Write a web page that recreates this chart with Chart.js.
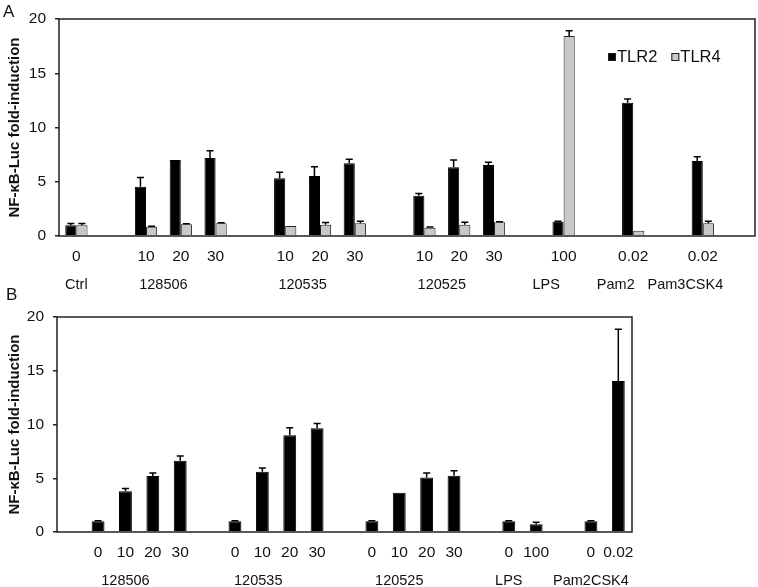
<!DOCTYPE html>
<html>
<head>
<meta charset="utf-8">
<script src="https://cdn.jsdelivr.net/npm/chart.js@4/dist/chart.umd.min.js"></script>
<style>
  body { margin: 0; background: #fff; }
  #wrap { position: relative; width: 758px; height: 587px; font-family: 'Liberation Sans', Arial, sans-serif; }
  canvas { position: absolute; left: 0; }
  #chartA { top: 0; }
  #chartB { top: 296px; }
  .panel { position: absolute; font-size: 17px; color: #111; }
</style>
</head>
<body>
<div id="wrap">
  <canvas id="chartA" width="758" height="296"></canvas>
  <canvas id="chartB" width="758" height="291"></canvas>
  <div class="panel" style="left:3px; top:2px;">A</div>
  <div class="panel" style="left:6px; top:285px;">B</div>
</div>
<script>
// Panel A: doses (empty string = spacer slot)
const dosesA = ['0', '', '10', '20', '30', '', '10', '20', '30', '', '10', '20', '30', '', '100', '', '0.02', '', '0.02', ''];
const tlr2 = [1.0, null, 4.55, 7.0, 7.2, null, 5.32, 5.53, 6.7, null, 3.71, 6.33, 6.54, null, 1.32, null, 12.29, null, 6.91, null];
const tlr2Err = [0.15, null, 0.85, 0, 0.65, null, 0.55, 0.85, 0.37, null, 0.2, 0.67, 0.25, null, 0.05, null, 0.34, null, 0.4, null];
const tlr4 = [1.0, null, 0.86, 1.08, 1.17, null, 0.92, 1.04, 1.17, null, 0.77, 1.04, 1.26, null, 18.43, null, 0.49, null, 1.17, null];
const tlr4Err = [0.15, null, 0.05, 0.05, 0.05, null, 0, 0.2, 0.18, null, 0.05, 0.22, 0.05, null, 0.49, null, 0, null, 0.18, null];
const groupsA = ['Ctrl', '128506', '120535', '120525', 'LPS', 'Pam2', 'Pam3CSK4'];
const groupPosA = [0, 2.5, 6.5, 10.5, 13.5, 15.5, 17.5];

// Panel B
const dosesB = ['', '0', '10', '20', '30', '', '0', '10', '20', '30', '', '0', '10', '20', '30', '', '0', '100', '', '0', '0.02'];
const valuesB = [null, 1.0, 3.8, 5.2, 6.63, null, 1.0, 5.6, 9.0, 9.65, null, 1.0, 3.65, 5.08, 5.24, null, 1.0, 0.72, null, 1.0, 14.05];
const errB = [null, 0.05, 0.25, 0.3, 0.45, null, 0.05, 0.35, 0.7, 0.45, null, 0.05, 0, 0.4, 0.46, null, 0.05, 0.18, null, 0.05, 4.8];
const groupsB = ['128506', '120535', '120525', 'LPS', 'Pam2CSK4'];
const groupPosB = [2, 6.85, 12, 16, 19];

const yTicks = [0, 5, 10, 15, 20];
const FONT = "'Liberation Sans', Arial, sans-serif";
const AXIS = '#222';

// error bars, frame, group labels
const extras = {
    id: 'extras',
    afterDatasetsDraw(chart, args, opts) {
        const ctx = chart.ctx;
        const y = chart.scales.y;
        ctx.save();
        ctx.strokeStyle = '#000';
        ctx.lineWidth = 1.5;
        chart.data.datasets.forEach((ds, di) => {
            const meta = chart.getDatasetMeta(di);
            ds.errors.forEach((e, i) => {
                if (!e || ds.data[i] == null) return;
                const bar = meta.data[i];
                const top = y.getPixelForValue(ds.data[i] + e);
                ctx.beginPath();
                ctx.moveTo(bar.x, bar.y);
                ctx.lineTo(bar.x, top);
                ctx.moveTo(bar.x - 3.5, top);
                ctx.lineTo(bar.x + 3.5, top);
                ctx.stroke();
            });
        });
        // frame
        const a = chart.chartArea;
        ctx.strokeStyle = AXIS;
        ctx.lineWidth = 1.5;
        ctx.strokeRect(a.left, a.top, a.right - a.left, a.bottom - a.top);
        // group labels
        const x = chart.scales.x;
        ctx.fillStyle = '#111';
        ctx.font = '14.5px ' + FONT;
        ctx.textAlign = 'center';
        ctx.textBaseline = 'middle';
        opts.groups.forEach((g, i) => {
            ctx.fillText(g, x.getPixelForValue(opts.positions[i]), a.bottom + 49);
        });
        // legend inside the plot
        if (opts.legend) {
            let lx = a.right - 147;
            const ly = a.top + 38;
            ctx.font = '16.5px ' + FONT;
            chart.data.datasets.forEach(ds => {
                ctx.fillStyle = ds.backgroundColor;
                ctx.fillRect(lx, ly - 4, 8, 8);
                ctx.strokeStyle = '#222';
                ctx.lineWidth = 1;
                ctx.strokeRect(lx + 0.5, ly - 3.5, 7, 7);
                ctx.fillStyle = '#111';
                ctx.textAlign = 'left';
                ctx.fillText(ds.label, lx + 9, ly);
                lx += 9 + ctx.measureText(ds.label).width + 14;
            });
        }
        ctx.restore();
    }
};

function makeOptions(yWidth, xHeight, padding, groups, positions, legend) {
    return {
        responsive: false,
        animation: false,
        layout: { padding: padding },
        plugins: {
            legend: { display: false },
            tooltip: { enabled: false },
            extras: { groups: groups, positions: positions, legend: legend }
        },
        scales: {
            x: {
                grid: { display: false, drawTicks: false },
                border: { display: false },
                ticks: { autoSkip: false, maxRotation: 0, padding: 11, color: '#111', font: { family: FONT, size: 15.5 } },
                afterFit: s => { s.height = xHeight; }
            },
            y: {
                min: 0,
                max: 20,
                afterBuildTicks: s => { s.ticks = yTicks.map(v => ({ value: v })); },
                grid: { drawOnChartArea: false, drawTicks: true, tickLength: 4, color: AXIS, lineWidth: 1.5 },
                border: { display: false },
                ticks: { padding: 9, color: '#111', font: { family: FONT, size: 15.5 } },
                title: {
                    display: true,
                    text: 'NF-κB-Luc fold-induction',
                    color: '#111',
                    padding: { top: 6, bottom: 0 },
                    font: { family: FONT, size: 15, weight: 'bold' }
                },
                afterFit: s => { s.width = yWidth; }
            }
        }
    };
}

new Chart(document.getElementById('chartA'), {
    type: 'bar',
    data: {
        labels: dosesA,
        datasets: [
            { label: 'TLR2', data: tlr2, errors: tlr2Err, backgroundColor: '#000', borderColor: '#000', borderWidth: 1 },
            { label: 'TLR4', data: tlr4, errors: tlr4Err, backgroundColor: '#c8c8c8', borderColor: '#222', borderWidth: 1 }
        ]
    },
    options: Object.assign(makeOptions(59, 60, { top: 19, right: 3, left: 0, bottom: 0 }, groupsA, groupPosA, true), {
        datasets: { bar: { categoryPercentage: 0.64, barPercentage: 1.0 } }
    }),
    plugins: [extras]
});

new Chart(document.getElementById('chartB'), {
    type: 'bar',
    data: {
        labels: dosesB,
        datasets: [
            { label: 'TLR2', data: valuesB, errors: errB, backgroundColor: '#000', borderColor: '#000', borderWidth: 1 }
        ]
    },
    options: Object.assign(makeOptions(57, 55, { top: 21, right: 126, left: 0, bottom: 0 }, groupsB, groupPosB, false), {
        datasets: { bar: { categoryPercentage: 1.0, barPercentage: 0.47 } }
    }),
    plugins: [extras]
});
</script>
</body>
</html>
